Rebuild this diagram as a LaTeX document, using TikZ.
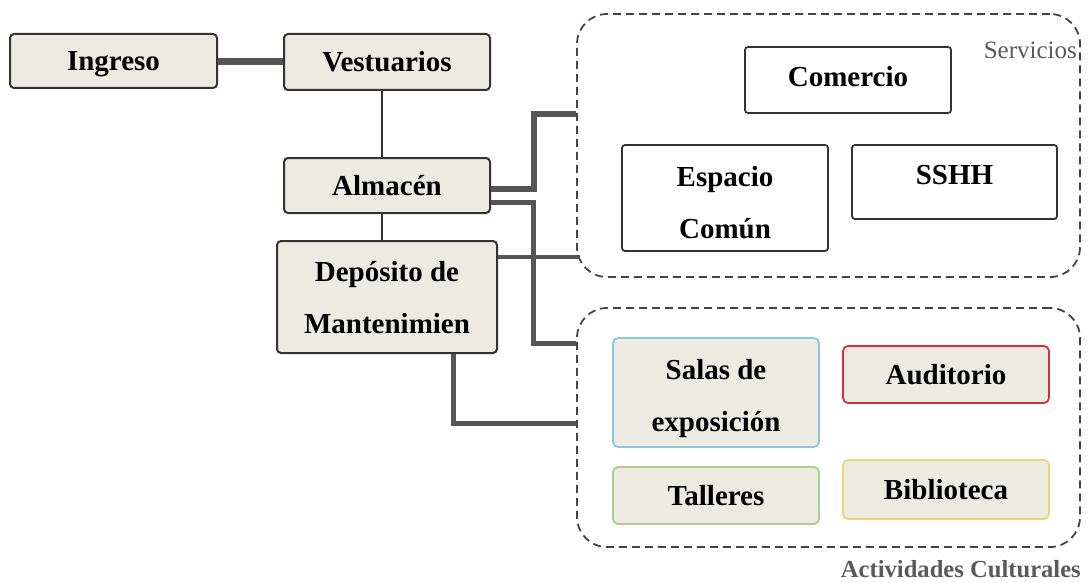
\documentclass[tikz,border=0pt]{standalone}
\usepackage{fontspec}
\setmainfont{Liberation Serif}
\definecolor{boxfill}{HTML}{EDEAE2}
\definecolor{bordcol}{HTML}{333333}
\definecolor{conncol}{HTML}{555555}
\definecolor{dashcol}{HTML}{444444}
\definecolor{salcol}{HTML}{86C8E2}
\definecolor{audcol}{HTML}{D0303F}
\definecolor{talcol}{HTML}{A9CF8E}
\definecolor{bibcol}{HTML}{EFD27A}
\definecolor{labcol}{HTML}{5A5A5A}
\tikzset{
  txt/.style={font=\fontsize{29}{52}\selectfont\bfseries, align=center, inner sep=0pt},
  one/.style={text height=20pt, text depth=0pt},
  mainbox/.style={txt, draw=bordcol, line width=2pt, fill=boxfill, rounded corners=4pt},
  whitebox/.style={txt, draw=bordcol, line width=1.8pt, fill=white, rounded corners=3pt},
  cultbox/.style={txt, draw=#1, line width=1.8pt, fill=boxfill, rounded corners=5pt},
  groupbox/.style={draw=dashcol, line width=1.8pt, dash pattern=on 8pt off 5pt, rounded corners=30pt, inner sep=0pt},
  conn/.style={draw=conncol, line width=#1},
  thinconn/.style={draw=bordcol, line width=2pt},
  grouplab/.style={text=labcol, inner sep=0pt}
}
\begin{document}
\begin{tikzpicture}[x=1pt,y=-1pt]
\useasboundingbox (0,0) rectangle (1089,583);
% group boxes
\node[groupbox, minimum width=503pt, minimum height=263pt] (serv) at (828.5,145.5) {};
\node[groupbox, minimum width=503pt, minimum height=239pt] (act) at (828.5,427.5) {};
% main column
\node[mainbox, one, minimum width=207pt, minimum height=54pt] (ing) at (113.5,61) {Ingreso};
\node[mainbox, one, minimum width=206pt, minimum height=56pt] (ves) at (387,62) {Vestuarios};
\node[mainbox, one, minimum width=206pt, minimum height=55pt] (alm) at (387,185.5) {Almacén};
\node[mainbox, minimum width=220pt, minimum height=112pt] (dep) at (387,297) {\rule{0pt}{22pt}Depósito de\\Mantenimien};
% servicios
\node[whitebox, one, text height=13pt, minimum width=206pt, minimum height=66pt] (com) at (848,80) {Comercio};
\node[whitebox, minimum width=206pt, minimum height=106pt] (esp) at (725,198) {\rule{0pt}{30pt}Espacio\\Común};
\node[whitebox, minimum width=205pt, minimum height=74pt, text height=19pt, text depth=15pt] (sshh) at (954.5,182) {SSHH};
% actividades
\node[cultbox=salcol, minimum width=206pt, minimum height=109pt] (sal) at (716,392.5) {\rule{0pt}{32pt}Salas de\\exposición};
\node[cultbox=audcol, one, minimum width=206pt, minimum height=57pt] (aud) at (946,374.5) {Auditorio};
\node[cultbox=talcol, one, minimum width=206pt, minimum height=57pt] (tal) at (716,495.5) {Talleres};
\node[cultbox=bibcol, one, minimum width=206pt, minimum height=59pt] (bib) at (946,489.5) {Biblioteca};
% labels
\node[grouplab, anchor=base east, font=\fontsize{25}{30}\selectfont] (servlab) at (1077,59) {Servicios};
\node[grouplab, anchor=base east, font=\fontsize{24.6}{30}\selectfont\bfseries] (actlab) at (1081,577) {Actividades Culturales};
% connectors
\draw[conn=7pt] (ing.east |- ves.west) -- (ves.west);
\draw[thinconn] ([xshift=-5pt]ves.south) -- ([xshift=-5pt]alm.north);
\draw[thinconn] ([xshift=-5pt]alm.south) -- ([xshift=-5pt]dep.north);
\draw[conn=6pt] ([yshift=-3.5pt]alm.east) -- ++(43,0) |- ([yshift=31.5pt]serv.west);
\draw[conn=5pt] ([yshift=-16.5pt]alm.east) -- ++(42,0) |- ([yshift=84.5pt]act.west);
\draw[conn=4pt] ([yshift=40pt]dep.east) coordinate (d3) -- ([xshift=4pt]d3 -| serv.west);
\draw[conn=5pt] ([xshift=66pt]dep.south) |- ([yshift=4.5pt]act.west);
\end{tikzpicture}
\end{document}
